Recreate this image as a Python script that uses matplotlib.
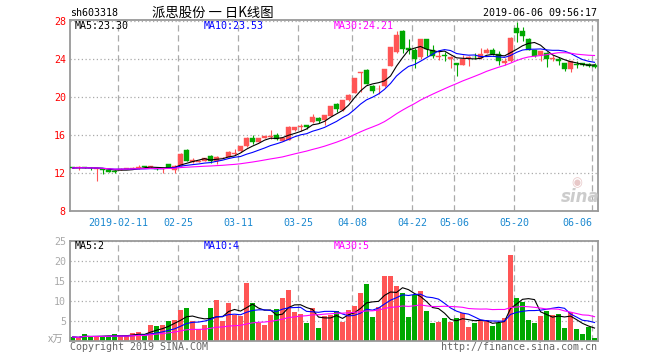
import matplotlib
matplotlib.use("Agg")
import matplotlib.pyplot as plt
import pandas as pd

# trading days shown (2019)
days = ["01-23", "01-24", "01-25", "01-28", "01-29", "01-30", "01-31", "02-01",
        "02-11", "02-12", "02-13", "02-14", "02-15", "02-18", "02-19", "02-20", "02-21", "02-22",
        "02-25", "02-26", "02-27", "02-28", "03-01", "03-04", "03-05", "03-06", "03-07", "03-08",
        "03-11", "03-12", "03-13", "03-14", "03-15", "03-18", "03-19", "03-20", "03-21", "03-22",
        "03-25", "03-26", "03-27", "03-28", "03-29", "04-01", "04-02", "04-03", "04-04",
        "04-08", "04-09", "04-10", "04-11", "04-12", "04-15", "04-16", "04-17", "04-18", "04-19",
        "04-22", "04-23", "04-24", "04-25", "04-26", "04-29", "04-30",
        "05-06", "05-07", "05-08", "05-09", "05-10", "05-13", "05-14", "05-15", "05-16", "05-17",
        "05-20", "05-21", "05-22", "05-23", "05-24", "05-27", "05-28", "05-29", "05-30", "05-31",
        "06-03", "06-04", "06-05", "06-06"]

opens = [12.62, 12.55, 12.64, 12.58, 12.48, 12.45, 12.30, 12.28, 12.38, 12.45,
         12.45, 12.55, 12.77, 12.65, 12.55, 12.40, 12.98, 12.32, 12.77, 14.46,
         13.22, 13.20, 13.30, 13.82, 13.28, 13.58, 13.72, 14.05, 14.30, 14.85,
         15.66, 15.28, 15.72, 15.82, 15.98, 15.40, 15.52, 16.50, 16.88, 17.02,
         17.42, 17.83, 17.61, 18.04, 19.25, 18.60, 19.65, 20.42, 22.58, 22.87,
         21.20, 20.82, 21.12, 23.30, 24.70, 26.98, 25.15, 24.95, 24.25, 26.12,
         24.98, 24.25, 24.45, 24.03, 23.58, 23.42, 24.12, 24.24, 24.10, 24.63,
         24.98, 24.56, 23.58, 23.75, 27.22, 26.92, 26.14, 24.91, 24.38, 24.63,
         24.05, 23.96, 23.58, 23.00, 23.42, 23.55, 23.50, 23.40]
highs = [12.68, 12.77, 12.68, 12.62, 12.55, 12.42, 12.35, 12.30, 12.50, 12.58,
         12.66, 12.91, 12.80, 12.80, 12.58, 12.50, 13.00, 12.85, 14.08, 14.50,
         13.62, 13.42, 13.65, 13.92, 13.76, 13.68, 14.30, 14.52, 14.90, 15.78,
         15.98, 15.70, 15.92, 16.56, 16.25, 15.75, 16.95, 16.85, 17.22, 17.10,
         18.26, 17.93, 18.15, 19.08, 19.42, 19.68, 20.28, 22.05, 22.67, 22.90,
         21.25, 21.30, 23.00, 25.25, 26.98, 27.00, 26.12, 25.20, 26.12, 26.15,
         25.50, 24.90, 24.75, 24.30, 23.60, 24.40, 24.35, 24.63, 25.15, 25.15,
         25.15, 24.87, 24.10, 26.30, 27.94, 27.40, 26.20, 24.95, 24.87, 24.73,
         24.45, 24.17, 23.62, 23.82, 23.75, 23.60, 23.55, 23.58]
lows = [12.50, 12.35, 12.50, 12.36, 11.23, 11.93, 12.10, 12.05, 12.35, 12.42,
        12.40, 12.40, 12.60, 12.60, 12.30, 12.00, 12.55, 12.00, 12.72, 13.30,
        13.05, 13.15, 13.25, 13.08, 12.92, 13.55, 13.70, 13.95, 14.28, 14.80,
        15.07, 15.25, 15.70, 15.60, 15.45, 15.35, 15.50, 16.45, 16.45, 16.65,
        17.28, 17.27, 17.05, 18.00, 18.47, 18.55, 19.60, 20.38, 20.49, 21.35,
        20.45, 20.35, 21.08, 23.25, 24.65, 24.63, 24.56, 23.08, 23.95, 24.30,
        24.15, 23.93, 23.80, 23.05, 22.17, 23.38, 23.22, 24.00, 24.00, 24.60,
        24.45, 23.40, 23.40, 23.70, 25.80, 25.85, 24.95, 24.17, 23.75, 23.12,
        23.75, 23.40, 22.70, 22.68, 23.05, 23.25, 23.20, 23.05]
closes = [12.55, 12.60, 12.56, 12.52, 12.52, 12.38, 12.18, 12.10, 12.46, 12.52,
          12.60, 12.65, 12.65, 12.77, 12.40, 12.45, 12.58, 12.80, 14.04, 13.32,
          13.37, 13.33, 13.60, 13.30, 13.73, 13.65, 14.27, 14.15, 14.85, 15.73,
          15.25, 15.66, 15.88, 15.88, 15.58, 15.70, 16.90, 16.82, 16.93, 16.90,
          17.88, 17.47, 18.08, 19.05, 18.70, 19.65, 20.25, 22.00, 22.65, 21.38,
          20.65, 20.88, 22.96, 25.22, 26.54, 25.05, 24.90, 24.00, 26.10, 25.10,
          24.28, 24.35, 24.35, 24.25, 23.40, 24.05, 24.17, 24.20, 24.52, 25.00,
          24.56, 23.75, 23.82, 26.20, 26.73, 26.47, 25.00, 24.28, 24.80, 24.00,
          24.10, 23.75, 22.98, 23.78, 23.38, 23.32, 23.25, 23.20]
# volume in 10k lots (x万)
volumes = [1.0, 0.8, 1.7, 1.0, 1.2, 1.2, 1.2, 1.7, 1.2, 1.3,
           2.0, 2.2, 1.5, 4.0, 3.7, 4.0, 5.0, 5.3, 7.7, 8.2,
           4.9, 2.9, 3.9, 8.2, 10.2, 5.0, 9.4, 6.5, 6.2, 14.4,
           9.4, 4.5, 3.9, 6.5, 7.9, 10.7, 12.7, 7.2, 6.7, 4.4,
           8.3, 3.2, 6.2, 6.6, 7.4, 4.75, 7.75, 8.75, 12.0, 14.25,
           6.0, 8.4, 16.2, 16.2, 13.7, 11.9, 6.0, 11.4, 12.5, 7.4,
           4.4, 4.7, 5.7, 4.7, 5.7, 7.0, 3.5, 4.4, 5.2, 5.2,
           3.75, 4.4, 5.7, 21.4, 10.7, 9.75, 5.25, 4.5, 6.2, 7.4,
           6.4, 6.7, 3.25, 7.3, 3.0, 1.7, 3.4, 0.75]

date_ticks = ["02-11", "02-25", "03-11", "03-25", "04-08", "04-22", "05-06", "05-20", "06-06"]
date_labels = ["2019-02-11", "02-25", "03-11", "03-25", "04-08", "04-22", "05-06", "05-20", "06-06"]
price_ticks = [8, 12, 16, 20, 24, 28]
vol_ticks = [5, 10, 15, 20, 25]

RED = "#ff5555"
GREEN = "#00a800"
GRID = "#aaaaaa"
BORDER = "#999999"
MONO = ["DejaVu Sans Mono", "Noto Sans CJK SC"]
FS = 7.2

W, H = 660, 360


def fx(x):
    return x / W


def fy(y):
    return 1 - y / H


fig = plt.figure(figsize=(6.6, 3.6), dpi=100)
ax = fig.add_axes([fx(70), fy(211.3), fx(528), (211.3 - 20) / H])
axv = fig.add_axes([fx(70), fy(341), fx(528), (341 - 240.7) / H])

n = len(days)
x = list(range(n))
s_close = pd.Series(closes)
s_vol = pd.Series(volumes)
colors = [RED if c >= o else GREEN for o, c in zip(opens, closes)]

# candles
ax.vlines(x, lows, highs, colors=colors, linewidth=0.8, zorder=2)
bottoms = [min(o, c) for o, c in zip(opens, closes)]
heights = [max(abs(c - o), 0.06) for o, c in zip(opens, closes)]
ax.bar(x, heights, bottom=bottoms, width=0.8, color=colors, edgecolor=colors,
       linewidth=0.3, zorder=3)

ma_cols = {5: "black", 10: "#0000ff", 30: "#ff00ff"}
for w, col in ma_cols.items():
    ax.plot(x, s_close.rolling(w, min_periods=1).mean(), color=col, linewidth=0.8, zorder=4)
    axv.plot(x, s_vol.rolling(w, min_periods=1).mean(), color=col, linewidth=0.8, zorder=4)

axv.bar(x, volumes, width=0.8, color=colors, linewidth=0, zorder=2)

tick_pos = [days.index(d) - 0.4 for d in date_ticks]
for a in (ax, axv):
    a.set_xlim(-0.42, n - 0.42)
    a.set_xticks(tick_pos)
    a.grid(axis="x", color=GRID, linestyle=(0, (5, 3)), linewidth=0.9)
    a.grid(axis="y", color=GRID, linestyle=(0, (1, 2)), linewidth=0.9)
    a.set_axisbelow(True)
    for sp in a.spines.values():
        sp.set_color(BORDER)
        sp.set_linewidth(1.3)
    a.tick_params(length=0)

ax.set_ylim(8, 28.1)
ax.set_yticks(price_ticks)
ax.set_yticklabels([str(t) for t in price_ticks], color="#ff0000", fontsize=FS, family=MONO)
ax.set_xticklabels(date_labels, color="#1a88d0", fontsize=FS, family=MONO)
ax.get_xticklabels()[-1].set_horizontalalignment("right")
ax.tick_params(axis="x", pad=5)
ax.tick_params(axis="y", pad=3)

axv.set_ylim(0, 25)
axv.set_yticks(vol_ticks)
axv.set_yticklabels([str(t) for t in vol_ticks], color="#aaaaaa", fontsize=FS, family=MONO)
axv.set_xticklabels([])
axv.tick_params(axis="y", pad=3)

# header texts
fig.text(fx(70), fy(12.5), "sh603318", fontsize=FS, family=MONO, va="center", ha="left")
fig.text(fx(213), fy(12.5), "派思股份 一 日K线图", fontsize=9.6, family=["Noto Sans CJK SC", "DejaVu Sans"],
         va="center", ha="center")
fig.text(fx(597), fy(12.5), "2019-06-06 09:56:17", fontsize=FS, family=MONO, va="center", ha="right")

fig.text(fx(74.5), fy(26), "MA5:23.30", fontsize=FS, family=MONO, va="center", color="black")
fig.text(fx(204), fy(26), "MA10:23.53", fontsize=FS, family=MONO, va="center", color="#0000ff")
fig.text(fx(334), fy(26), "MA30:24.21", fontsize=FS, family=MONO, va="center", color="#ff00ff")

fig.text(fx(74.5), fy(246), "MA5:2", fontsize=FS, family=MONO, va="center", color="black")
fig.text(fx(204), fy(246), "MA10:4", fontsize=FS, family=MONO, va="center", color="#0000ff")
fig.text(fx(334), fy(246), "MA30:5", fontsize=FS, family=MONO, va="center", color="#ff00ff")

fig.text(fx(63), fy(340), "x万", fontsize=7.5, family=["Noto Sans CJK SC", "DejaVu Sans"],
         va="center", ha="right", color="#a0a0a0")
fig.text(fx(70), fy(346.5), "Copyright 2019 SINA.COM", fontsize=FS, family=MONO, va="center",
         color="#666666")
fig.text(fx(597), fy(346.5), "http://finance.sina.com.cn", fontsize=FS, family=MONO, va="center",
         ha="right", color="#666666")

# sina watermark
fig.text(fx(577), fy(183), "◉", fontsize=9, family="DejaVu Sans", color="#e8c8c8",
         ha="center", va="center")
fig.text(fx(580), fy(197), "sina", fontsize=12, family="DejaVu Sans", weight="bold", style="italic",
         color="#cccccc", ha="center", va="center")

fig.savefig("out.png", dpi=100)
